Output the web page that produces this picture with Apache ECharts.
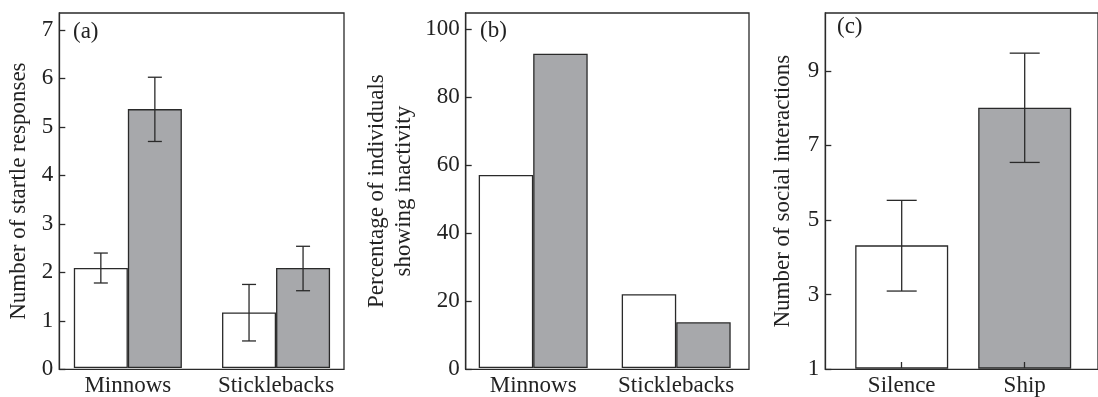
<!DOCTYPE html>
<html>
<head>
<meta charset="utf-8">
<script src="https://cdn.jsdelivr.net/npm/echarts@6/dist/echarts.min.js"></script>
<style>
  html, body { margin: 0; padding: 0; background: #fff; }
  #chart { width: 1098px; height: 397px; }
</style>
</head>
<body>
<div id="chart"></div>
<script>
// ---- data ----
const speciesCats = ['Minnows', 'Sticklebacks'];
const treatmentCats = ['Silence', 'Ship'];

// (a) startle responses: mean and error-bar limits per species
const startleSilence = [2.07, 1.15];
const startleSilenceLow = [1.76, 0.56];
const startleSilenceHigh = [2.38, 1.73];
const startleShip = [5.36, 2.07];
const startleShipLow = [4.69, 1.60];
const startleShipHigh = [6.02, 2.52];

// (b) percentage of individuals showing inactivity
const inactSilence = [57, 21.8];
const inactShip = [92.8, 13.5];

// (c) social interactions
const socialMean = [4.3, 8.0];
const socialLow = [3.07, 6.53];
const socialHigh = [5.51, 9.47];

// ticks
const ticksA = { min: 0, max: 7.35, interval: 1 };
const ticksB = { min: 0, max: 104.8, interval: 20 };
const ticksC = { min: 1, max: 10.55, interval: 2 };

// ---- styles ----
const FONT = 'Liberation Serif';
const INK = '#222222';
const LINE = '#2a2a2a';
const WHITE = '#ffffff';
const GREY = '#a7a8ab';
const FS = 23;

const chart = echarts.init(document.getElementById('chart'), null, { renderer: 'canvas' });

const TOP = 13, BOTTOM = 27.7;

function frameGrid(left, right) {
  return { left, right, top: TOP, bottom: BOTTOM, show: true, borderColor: LINE, borderWidth: 1.3, backgroundColor: 'transparent', containLabel: false };
}
function barGrid(left, right) {
  return { left, right, top: TOP, bottom: BOTTOM, show: false, containLabel: false };
}

function yAxisFrame(gi, t, name, nameGap, fmt) {
  return {
    type: 'value', gridIndex: gi, min: t.min, max: t.max, interval: t.interval,
    name, nameLocation: 'middle', nameGap, nameRotate: 90,
    nameTextStyle: { fontFamily: FONT, fontSize: FS, color: INK, lineHeight: 27 },
    axisLine: { show: true, lineStyle: { color: LINE, width: 1.3 } },
    axisTick: { show: true, inside: true, length: 6, lineStyle: { color: LINE, width: 1.3 } },
    axisLabel: { show: true, margin: 6, fontFamily: FONT, fontSize: FS, color: INK, showMaxLabel: false,
      formatter: fmt },
    splitLine: { show: false }
  };
}
function yAxisHidden(gi, t) {
  return { type: 'value', gridIndex: gi, min: t.min, max: t.max, show: false, splitLine: { show: false } };
}
function xAxisHidden(gi) {
  return { type: 'value', gridIndex: gi, min: 0, max: 1, show: false, splitLine: { show: false } };
}
function xAxisCats(gi, cats, showTicks) {
  return {
    type: 'category', gridIndex: gi, data: cats, z: 10,
    axisLine: { show: false },
    axisTick: { show: showTicks, inside: true, alignWithLabel: true, length: 6, lineStyle: { color: LINE, width: 1.3 } },
    axisLabel: { margin: 6, fontFamily: FONT, fontSize: FS, color: INK, interval: 0 },
    splitLine: { show: false }
  };
}

function barSeries(name, xi, data, color, gap) {
  return {
    name, type: 'bar', xAxisIndex: xi, yAxisIndex: xi, data,
    barGap: '0%', barCategoryGap: gap,
    itemStyle: { color, borderColor: LINE, borderWidth: 1.3 },
    z: 2
  };
}

// error bars drawn from low/high arrays; side shifts to the left/right bar of a pair
function errorSeries(xi, low, high, side, gapFrac, capW) {
  return {
    type: 'custom', xAxisIndex: xi, yAxisIndex: xi, z: 5,
    data: low.map((l, i) => [i, l, high[i]]),
    encode: { x: 0, y: [1, 2] },
    renderItem(params, api) {
      const i = api.value(0);
      const pLow = api.coord([i, api.value(1)]);
      const pHigh = api.coord([i, api.value(2)]);
      const band = api.size([1, 0])[0];
      const barW = band * (1 - gapFrac) / (side === 0 ? 1 : 2);
      const x = pLow[0] + side * barW / 2;
      const st = { stroke: LINE, lineWidth: 1.3 };
      return {
        type: 'group',
        children: [
          { type: 'line', shape: { x1: x, y1: pLow[1], x2: x, y2: pHigh[1] }, style: st },
          { type: 'line', shape: { x1: x - capW / 2, y1: pLow[1], x2: x + capW / 2, y2: pLow[1] }, style: st },
          { type: 'line', shape: { x1: x - capW / 2, y1: pHigh[1], x2: x + capW / 2, y2: pHigh[1] }, style: st }
        ]
      };
    }
  };
}

const intFmt = v => (Math.abs(v - Math.round(v)) < 1e-6 ? String(Math.round(v)) : '');

const gapA = 0.271, gapB = 0.238, gapC = 0.244;

const option = {
  animation: false,
  backgroundColor: '#ffffff',
  grid: [
    frameGrid(59.3, 754),      // 0: (a) frame
    barGrid(53.75, 747.85),    // 1: (a) bars
    frameGrid(465.7, 349),     // 2: (b) frame
    barGrid(461.7, 350.3),     // 3: (b) bars
    frameGrid(825.3, -12),     // 4: (c) frame
    barGrid(840.2, 11.8)       // 5: (c) bars
  ],
  xAxis: [
    xAxisHidden(0),
    xAxisCats(1, speciesCats, false),
    xAxisHidden(2),
    xAxisCats(3, speciesCats, false),
    xAxisHidden(4),
    xAxisCats(5, treatmentCats, true)
  ],
  yAxis: [
    yAxisFrame(0, ticksA, 'Number of startle responses', 27, intFmt),
    yAxisHidden(1, ticksA),
    yAxisFrame(2, ticksB, 'Percentage of individuals\nshowing inactivity', 48, intFmt),
    yAxisHidden(3, ticksB),
    yAxisFrame(4, ticksC, 'Number of social interactions', 29, intFmt),
    yAxisHidden(5, ticksC)
  ],
  series: [
    barSeries('Silence', 1, startleSilence, WHITE, (gapA * 100) + '%'),
    barSeries('Ship noise', 1, startleShip, GREY, (gapA * 100) + '%'),
    errorSeries(1, startleSilenceLow, startleSilenceHigh, -1, gapA, 14),
    errorSeries(1, startleShipLow, startleShipHigh, 1, gapA, 14),

    barSeries('Silence', 3, inactSilence, WHITE, (gapB * 100) + '%'),
    barSeries('Ship noise', 3, inactShip, GREY, (gapB * 100) + '%'),

    barSeries('Interactions', 5, socialMean.map((v, i) => ({ value: v, itemStyle: { color: i === 0 ? WHITE : GREY } })), WHITE, (gapC * 100) + '%'),
    errorSeries(5, socialLow, socialHigh, 0, gapC, 30)
  ],
  graphic: [
    { type: 'text', left: 73, top: 20, style: { text: '(a)', font: FS + 'px "' + FONT + '"', fill: INK } },
    { type: 'text', left: 480, top: 19, style: { text: '(b)', font: FS + 'px "' + FONT + '"', fill: INK } },
    { type: 'text', left: 837, top: 15, style: { text: '(c)', font: FS + 'px "' + FONT + '"', fill: INK } }
  ]
};

chart.setOption(option);
</script>
</body>
</html>
